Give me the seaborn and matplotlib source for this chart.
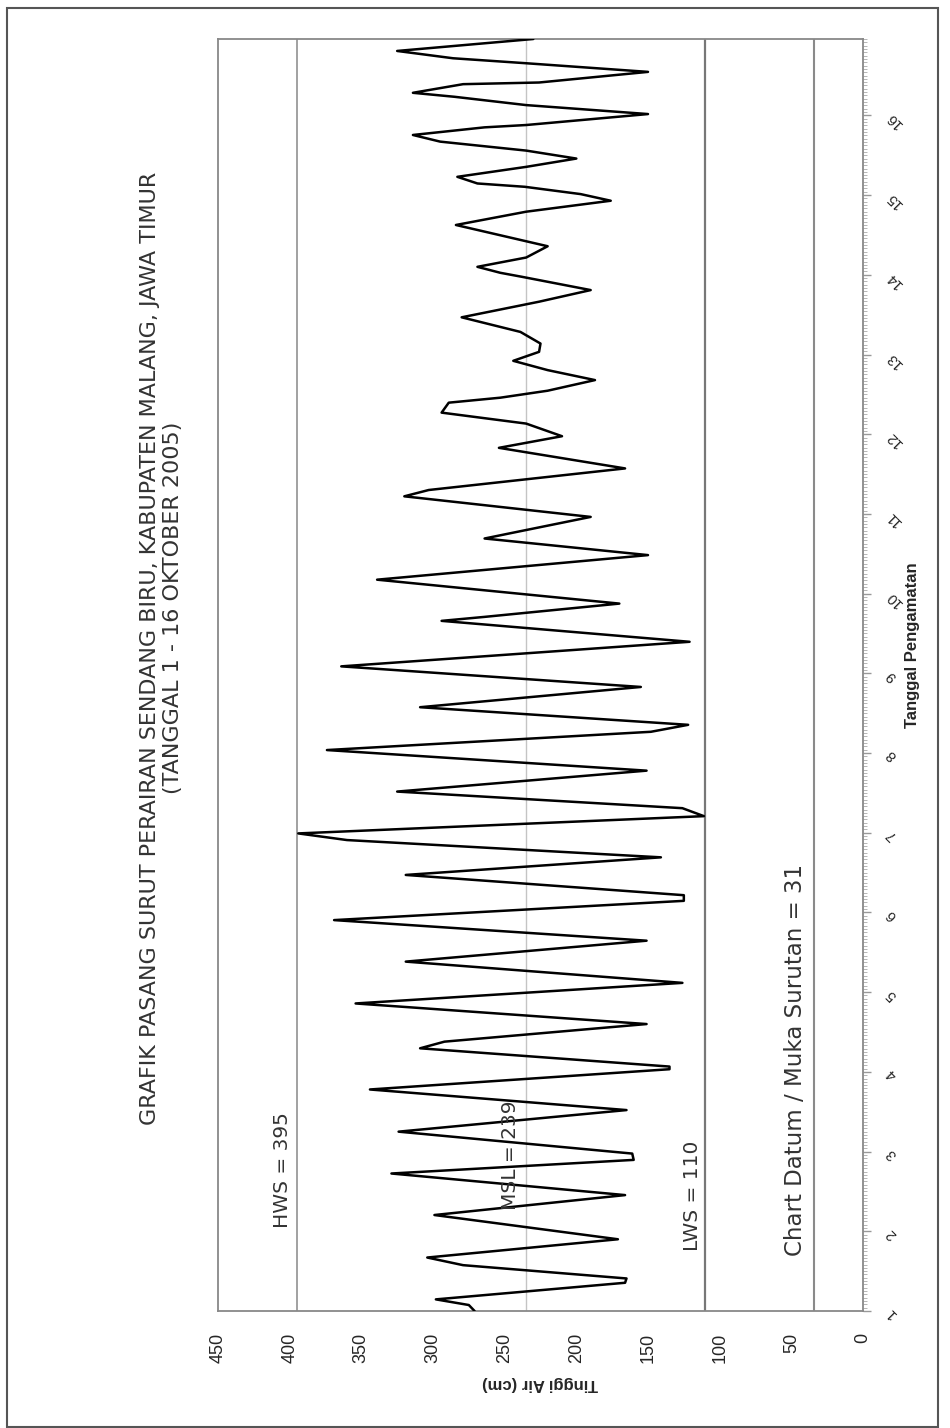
import pandas as pd
import matplotlib
matplotlib.use('Agg')
import matplotlib.pyplot as plt
from matplotlib.patches import Rectangle
from matplotlib.ticker import MultipleLocator
import seaborn as sns

# Data pengamatan (jam sejak 1 Oktober 00:00, tinggi air dalam cm)
jam = [0, 1.8, 3.5, 8.5, 9.8, 13.8, 16.1, 21.6, 28.9, 34.9, 41.4, 45.5, 47.4, 54.0,
       60.5, 66.7, 72.8, 73.6, 79.1, 81.1, 86.4, 92.6,
       98.8, 105.2, 111.5, 117.7, 123.5, 125.2, 131.3, 136.6, 141.8, 143.8, 149.0,
       151.4, 156.4, 162.7, 168.9, 174.4, 176.5, 181.8,
       187.9, 194.1, 201.5, 207.8, 209.0, 213.0, 220.2, 227.6, 232.6, 234.1, 239.1,
       245.3, 247.2, 253.7, 259.9, 263.4, 267.2, 270.5, 273.5, 275.0, 277.1, 280.3,
       283.3, 286.1, 288.8, 291.3, 294.8, 299.2, 303.9, 307.4, 311.4, 312.6, 314.4,
       317.2, 320.6, 322.4, 327.0, 331.0, 334.3, 336.3, 338.5, 339.5, 341.5, 344.5,
       347.0, 349.4, 352.1, 354.1, 356.4, 357.1, 360.4, 363.1, 365.6, 366.8, 369.4,
       369.9, 373.1, 375.7, 377.2, 379.4, 383.0]
tinggi = [271, 275, 298, 166, 165, 279, 304, 171, 299, 166, 329, 160, 161, 324,
          165, 344, 135, 135, 309, 292, 151, 354,
          126, 319, 151, 369, 125, 125, 319, 141, 360, 394, 111,
          126, 325, 151, 374, 148, 122, 309,
          155, 364, 121, 294, 264, 170, 339, 150, 264, 247, 190,
          320, 303, 166, 254, 210, 235, 294, 289, 253, 220, 187,
          220, 244, 226, 225, 239, 280, 226, 190, 238, 253, 269,
          235, 220, 238, 284, 235, 176, 197, 236, 269, 283, 235,
          200, 235, 295, 314, 264, 235, 150, 235, 285, 314, 279,
          226, 150, 235, 286, 325, 230]

tanggal = list(range(1, 17))
tanggal_jam = [(d - 1) * 24 for d in tanggal]
tinggi_ticks = [0, 50, 100, 150, 200, 250, 300, 350, 400, 450]

# Garis referensi (posisi garis di gambar) dan labelnya
ref_nilai = [395, 235, 110, 34]
ref_label = ['HWS = 395', 'MSL = 239', 'LWS = 110', 'Chart Datum / Muka Surutan = 31']
ref_warna = ['#9a9a9a', '#c4c4c4', '#777777', '#8a8a8a']
ref_tebal = [1.3, 1.0, 1.6, 1.5]

judul_1 = 'GRAFIK PASANG SURUT PERAIRAN SENDANG BIRU, KABUPATEN MALANG, JAWA TIMUR'
judul_2 = '(TANGGAL 1 - 16 OKTOBER 2005)'

df = pd.DataFrame({'jam': jam, 'tinggi': tinggi})

sns.set_style('white')
plt.rcParams['font.family'] = ['Liberation Sans', 'DejaVu Sans']

W, H = 950, 1428
fig = plt.figure(figsize=(W / 100, H / 100), dpi=100)
ax = fig.add_axes([218 / W, 117 / H, 645 / W, 1272 / H])

for v, c, lw in zip(ref_nilai, ref_warna, ref_tebal):
    ax.axvline(v, color=c, lw=lw, zorder=1)

sns.lineplot(data=df, x='tinggi', y='jam', orient='y', sort=False, estimator=None,
             color='black', lw=1.8, ax=ax, zorder=3)

ax.set_xlim(450, 0)
ax.set_ylim(0, 383)
ax.set_xlabel('')
ax.set_ylabel('')

ax.set_xticks(tinggi_ticks)
ax.set_xticklabels([str(t) for t in tinggi_ticks], rotation=90, fontsize=13)
ax.yaxis.tick_right()
ax.set_yticks(tanggal_jam)
ax.set_yticklabels([str(d) for d in tanggal], rotation=135, fontsize=10.5)
ax.yaxis.set_minor_locator(MultipleLocator(1))
ax.tick_params(axis='x', direction='out', length=6, width=1, color='#888888', pad=10)
ax.tick_params(axis='y', which='major', direction='out', length=6, width=1,
               color='#999999', pad=9)
ax.tick_params(axis='y', which='minor', direction='out', length=3, width=0.6,
               color='#aaaaaa', right=True, left=False)
for s in ax.spines.values():
    s.set_color('#888888')
    s.set_linewidth(1.3)

# label garis referensi
ann_font = dict(rotation=90, ha='center', va='center', fontsize=14.5,
                family='DejaVu Sans', color='#333333', zorder=4)
ax.text(405, 42.5, ref_label[0], **ann_font)
ax.text(246, 47, ref_label[1], **ann_font)
ax.text(119, 34.6, ref_label[2], **ann_font)
ax.text(47, 75.6, ref_label[3], **dict(ann_font, fontsize=16.5))

# judul dan label sumbu
fig.text(150 / W, 1 - 648 / H, judul_1, rotation=90, ha='center', va='center',
         fontsize=16, family='DejaVu Sans', color='#333333')
fig.text(173 / W, 1 - 608 / H, judul_2, rotation=90, ha='center', va='center',
         fontsize=16, family='DejaVu Sans', color='#333333')
fig.text(540 / W, 1 - 1383 / H, 'Tinggi Air (cm)', rotation=180, ha='center',
         va='center', fontsize=12, fontweight='bold')
fig.text(912 / W, 1 - 645 / H, 'Tanggal Pengamatan', rotation=90, ha='center',
         va='center', fontsize=12, fontweight='bold')

fig.add_artist(Rectangle((7 / W, 1 / H), 931 / W, 1419 / H, transform=fig.transFigure,
                         fill=False, edgecolor='#555555', lw=1.5))

fig.savefig('out.png', dpi=100)
